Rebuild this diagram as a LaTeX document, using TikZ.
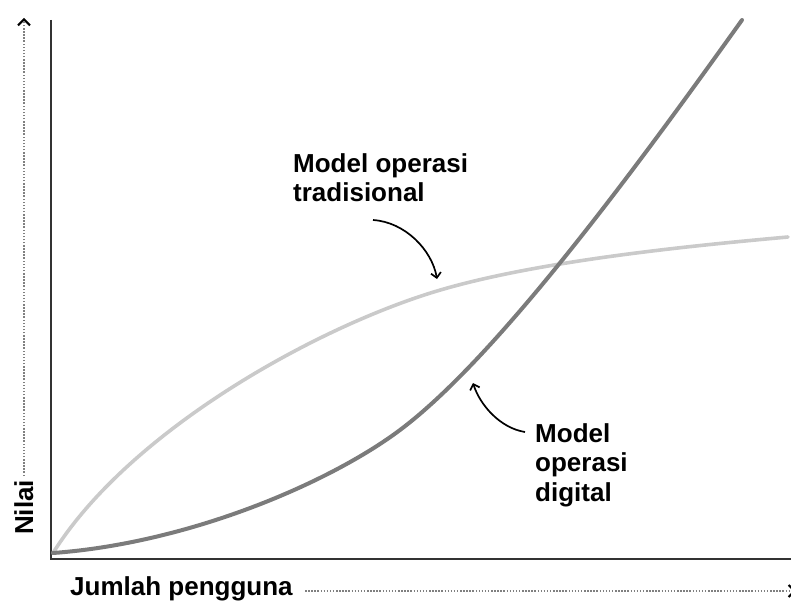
\documentclass[tikz,border=0pt]{standalone}
\usepackage{fontspec}
\setmainfont{Liberation Sans}
\usetikzlibrary{arrows.meta}

\definecolor{axisgray}{HTML}{333333}
\definecolor{digitalgray}{HTML}{7B7B7B}
\definecolor{tradgray}{HTML}{CACACA}
\definecolor{dotgray}{HTML}{808080}

\tikzset{
  axisline/.style={draw=axisgray, line width=2.6pt},
  dotaxis/.style={draw=dotgray, line width=2.4pt, dash pattern=on 1.5pt off 1.6pt,
    -{Straight Barb[length=6pt, width=12pt, line width=2pt, color=black]}},
  digitalcurve/.style={draw=digitalgray, line width=4pt, line cap=round},
  tradcurve/.style={draw=tradgray, line width=3.6pt, line cap=round},
  pointer/.style={draw=black, line width=1.7pt,
    -{Straight Barb[length=5pt, width=10pt, line width=1.7pt]}},
  label/.style={font=\bfseries\fontsize{26}{29.5}\selectfont, inner sep=0pt, align=left},
}

\begin{document}
\begin{tikzpicture}[x=1pt, y=-1pt]
  \useasboundingbox (0,0) rectangle (791,601);

  % axes
  \coordinate (origin) at (51,559);
  \coordinate (ytop) at (51,20);
  \coordinate (xend) at (791,559);
  \draw[axisline] (ytop) -- (origin) -- (xend);

  % axis titles with dotted direction arrows
  \node[label, rotate=90, anchor=base west] (nilai) at (33,535) {Nilai};
  \node[label, anchor=base west] (jumlah) at (70,595) {Jumlah pengguna};
  \coordinate (yarrow) at (24,18);
  \coordinate (xarrow) at (796,591);
  \draw[dotaxis] (24,476) -- (yarrow);
  \draw[dotaxis] (305,591) -- (xarrow);

  % traditional operating model: fast start, then flattening out
  \coordinate (start) at (53,553);
  \coordinate (tradend) at (788,237);
  \coordinate (digend) at (742,20);
  \draw[tradcurve] (start) .. controls (130,430) and (317,327) .. (437,291)
                          .. controls (537,261) and (688,246) .. (tradend);

  % digital operating model: slow start, then steep growth
  \draw[digitalcurve] (start) .. controls (190,543) and (330,482.5) .. (400,430)
                             .. controls (496,358) and (632,174) .. (digend);

  % labels
  \node[label, anchor=north west] (trad) at (293,153) {Model operasi\\tradisional};
  \node[label, anchor=north west] (digital) at (535,423) {Model\\operasi\\digital};

  % pointers from labels to curves
  \coordinate (tradtail) at (373,220);
  \coordinate (tradhead) at (437,279);
  \coordinate (digtail) at (525,432);
  \coordinate (dighead) at (473,383);
  \draw[pointer] (tradtail) .. controls (405,222) and (432,250) .. (tradhead);
  \draw[pointer] (digtail) .. controls (500,428) and (480,405) .. (dighead);
\end{tikzpicture}
\end{document}
